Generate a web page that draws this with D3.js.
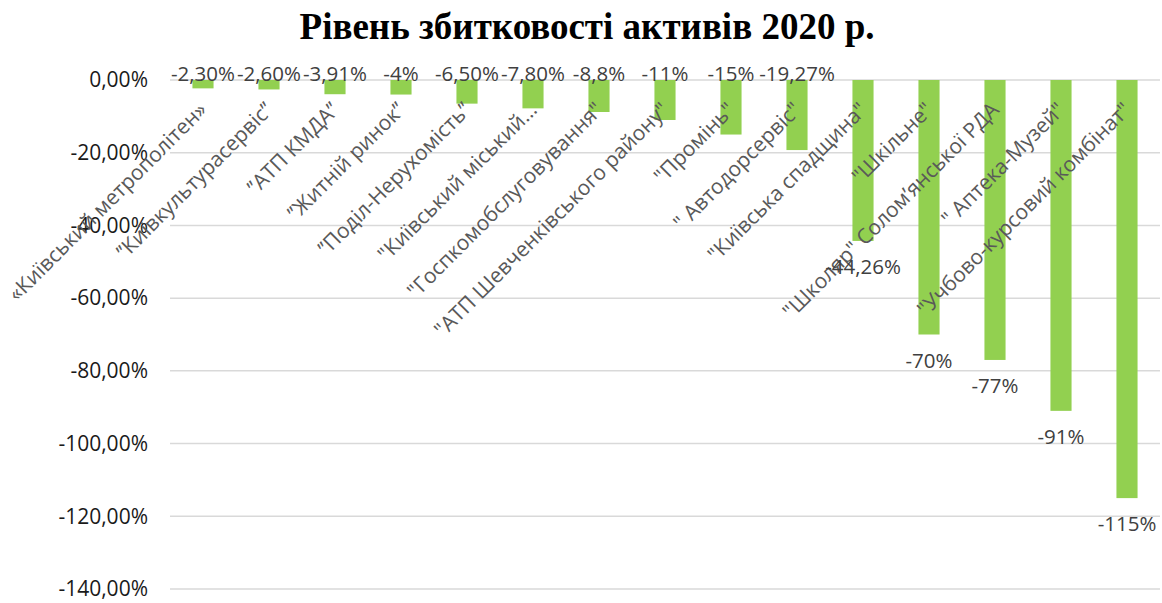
<!DOCTYPE html>
<html>
<head>
<meta charset="utf-8">
<script src="https://cdn.jsdelivr.net/npm/d3@7"></script>
<style>
  html, body { margin: 0; padding: 0; background: #fff; }
  svg { display: block; }
</style>
</head>
<body>
<svg id="chart" width="1162" height="603"></svg>
<script>
const title = "Рівень збитковості активів 2020 р.";
const categories = [
  "«Київський метрополітен»",
  "’’Київкультурасервіс’’",
  "’’АТП КМДА’’",
  "’’Житній ринок’’",
  "’’Поділ-Нерухомість’’",
  "\"Київський міський…",
  "\"Госпкомобслуговування\"",
  "\"АТП Шевченківського району\"",
  "\"Промінь\"",
  "\" Автодорсервіс\"",
  "\"Київська спадщина\"",
  "\"Шкільне\"",
  "\"Школяр\" Солом’янської РДА",
  "\" Аптека-Музей\"",
  "\"Учбово-курсовий комбінат\""
];
const values = [-2.30, -2.60, -3.91, -4, -6.50, -7.80, -8.8, -11, -15, -19.27, -44.26, -70, -77, -91, -115];
const valueLabels = ["-2,30%", "-2,60%", "-3,91%", "-4%", "-6,50%", "-7,80%", "-8,8%", "-11%", "-15%", "-19,27%", "-44,26%", "-70%", "-77%", "-91%", "-115%"];
const yTicks = [0, -20, -40, -60, -80, -100, -120, -140];
const yTickLabels = ["0,00%", "-20,00%", "-40,00%", "-60,00%", "-80,00%", "-100,00%", "-120,00%", "-140,00%"];

const svg = d3.select("#chart");
const FONT = "'Open Sans', 'Liberation Sans', sans-serif";

const x = d3.scaleBand().domain(categories).range([170, 1160]).paddingInner(0.68).paddingOuter(0.34);
const y = d3.scaleLinear().domain([-140, 0]).range([589, 80]);

// title
svg.append("text")
  .attr("x", 587).attr("y", 39)
  .attr("text-anchor", "middle")
  .style("font-family", "'Liberation Serif', 'Times New Roman', serif")
  .style("font-weight", "bold")
  .style("font-size", "37px")
  .attr("fill", "#000")
  .text(title);

// gridlines
svg.append("g").selectAll("line").data(yTicks).join("line")
  .attr("x1", 170).attr("x2", 1160)
  .attr("y1", d => y(d)).attr("y2", d => y(d))
  .attr("stroke", "#d9d9d9").attr("stroke-width", 1.5);

// y axis labels
const yAxis = d3.axisLeft(y).tickValues(yTicks).tickSize(0).tickPadding(0)
  .tickFormat((d, i) => yTickLabels[i]);
const ya = svg.append("g").attr("transform", "translate(148,0)").call(yAxis);
ya.select(".domain").remove();
ya.selectAll("text")
  .style("font-family", FONT).style("font-size", "21px").attr("fill", "#1a1a1a");

// bars
svg.append("g").selectAll("rect").data(values).join("rect")
  .attr("x", (d, i) => x(categories[i]))
  .attr("width", x.bandwidth())
  .attr("y", d => y(0))
  .attr("height", d => y(d) - y(0))
  .attr("fill", "#92D050");

// category labels
svg.append("g").selectAll("text").data(categories).join("text")
  .attr("transform", d => `translate(${x(d) + x.bandwidth() / 2},${y(0) + 26}) rotate(-45)`)
  .attr("text-anchor", "end")
  .attr("dy", "0.35em")
  .style("font-family", FONT).style("font-size", "21px")
  .attr("fill", "#595959")
  .text(d => d);

// data labels
svg.append("g").selectAll("text").data(values).join("text")
  .attr("x", (d, i) => x(categories[i]) + x.bandwidth() / 2)
  .attr("y", d => d > -20 ? y(0) + 1 : y(d) + 26)
  .attr("dy", d => d > -20 ? "0" : "0.35em")
  .attr("text-anchor", "middle")
  .style("font-family", FONT).style("font-size", "20.5px")
  .attr("fill", "#404040")
  .text((d, i) => valueLabels[i]);
</script>
</body>
</html>
